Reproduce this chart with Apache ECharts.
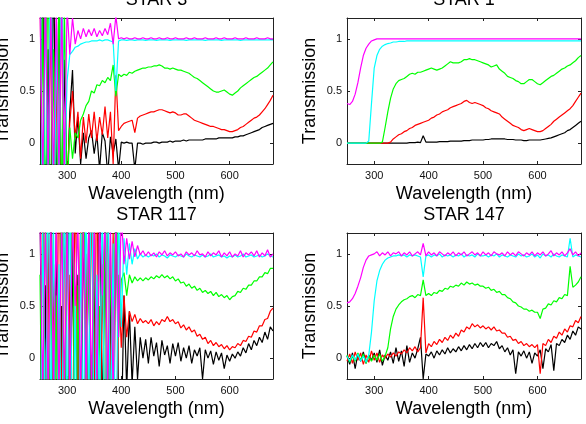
<!DOCTYPE html>
<html>
<head>
<meta charset="utf-8">
<script src="https://cdn.jsdelivr.net/npm/echarts@6/dist/echarts.min.js"></script>
<style>
  html, body { margin: 0; padding: 0; background: #fff; }
  #main { width: 586px; height: 424px; }
</style>
</head>
<body>
<div id="main"></div>
<script>
// wavelength grid (nm), 5 nm steps
const wl = [
  250,255,260,265,270,275,280,285,290,295,
  300,305,310,315,320,325,330,335,340,345,
  350,355,360,365,370,375,380,385,390,395,
  400,405,410,415,420,425,430,435,440,445,
  450,455,460,465,470,475,480,485,490,495,
  500,505,510,515,520,525,530,535,540,545,
  550,555,560,565,570,575,580,585,590,595,
  600,605,610,615,620,625,630,635,640,645,
  650,655,660,665,670,675,680
];

const xTicks = [300, 400, 500, 600];
const yTicks = [0, 0.5, 1];
const titles = ['STAR 3', 'STAR 1', 'STAR 117', 'STAR 147'];
const colors = ['#000000', '#ff0000', '#00ff00', '#00ffff', '#ff00ff'];

// STAR 3
const s3Black = [
  -1,1.8,-1.2,0.9,-1.5,2,-0.8,1.5,-1,0.8,
  -0.5,0.3,0.7,-0.1,0.25,-0.2,0.1,-0.15,0.05,0.12,
  -0.1,0.08,-0.25,0.1,0.02,-0.3,0.06,-0.1,0.04,-0.25,
  0.01,0,0.01,0,0,-0.25,0,0,-0.01,0,
  0,0,0.01,0.01,0,0.01,0.01,0.01,0.02,0.01,
  0.02,0.02,0.02,0.03,0.02,0.03,0.03,0.03,0.03,0.03,
  0.03,0.04,0.04,0.04,0.04,0.04,0.05,0.05,0.05,0.05,
  0.05,0.05,0.06,0.06,0.07,0.07,0.08,0.09,0.1,0.11,
  0.12,0.13,0.15,0.16,0.17,0.18,0.19
];
const s3Red = [
  1.6,-1.2,2,-0.9,1.4,-1.6,0.8,-1.1,1.7,-0.6,
  -0.4,0.2,0.5,0.05,0.3,-0.15,0.25,0,0.28,0.05,
  0.3,0.02,0.25,0.08,0.35,0.05,0.3,-0.2,0.65,0.12,
  0.16,0.19,0.2,0.21,0.22,0.1,0.24,0.26,0.27,0.28,
  0.29,0.3,0.3,0.31,0.32,0.32,0.31,0.3,0.29,0.3,
  0.29,0.27,0.27,0.28,0.28,0.26,0.24,0.22,0.21,0.2,
  0.19,0.18,0.17,0.16,0.16,0.15,0.14,0.13,0.13,0.12,
  0.11,0.11,0.12,0.13,0.15,0.16,0.18,0.2,0.22,0.24,
  0.25,0.27,0.3,0.33,0.37,0.41,0.46
];
const s3Green = [
  -1.3,1.2,-0.8,2.1,-1.5,0.9,-1.1,1.6,-0.7,1.3,
  -0.5,0.15,-0.15,0.1,0.05,0.22,0.28,0.36,0.4,0.5,
  0.48,0.56,0.55,0.6,0.58,0.63,0.6,0.75,0.45,0.66,
  0.64,0.66,0.65,0.68,0.67,0.69,0.7,0.71,0.72,0.72,
  0.73,0.73,0.74,0.74,0.75,0.74,0.72,0.72,0.71,0.72,
  0.71,0.7,0.7,0.69,0.68,0.67,0.65,0.63,0.62,0.6,
  0.58,0.56,0.54,0.52,0.5,0.49,0.49,0.5,0.51,0.49,
  0.47,0.46,0.48,0.5,0.53,0.55,0.57,0.59,0.61,0.63,
  0.64,0.66,0.68,0.7,0.72,0.75,0.78
];
const s3Cyan = [
  2.2,-1.4,1.5,-1,2.6,-1.8,1.1,-0.6,1.9,-0.4,
  0.6,0.85,0.88,0.92,0.93,0.95,0.96,0.97,0.97,0.98,
  0.98,0.98,0.99,0.98,0.99,0.99,0.98,0.97,0.5,0.98,
  0.99,0.99,0.985,0.99,0.99,0.985,0.99,0.99,0.99,0.985,
  0.99,0.99,0.99,0.985,0.99,0.99,0.99,0.99,0.985,0.99,
  0.99,0.99,0.99,0.99,0.985,0.99,0.99,0.99,0.99,0.99,
  0.99,0.985,0.99,0.99,0.99,0.99,0.99,0.985,0.99,0.99,
  0.99,0.99,0.99,0.99,0.985,0.99,0.99,0.99,0.99,0.99,
  0.99,0.99,0.99,0.99,0.99,0.99,0.99
];
const s3Magenta = [
  1.3,-0.35,1.35,-0.3,1.3,-0.4,1.35,-0.3,1.3,-0.25,
  1.3,0.85,1.2,0.95,1.08,1,1.1,1.02,1.09,1.03,
  1.1,1.02,1.08,1.03,1.1,1.04,1.15,0.95,1.22,1,
  1.01,1,1.01,1,1,1.01,1,1,1.01,1,
  1,1.01,1,1,1.01,1,1,1.01,1,1,
  1.01,1,1,1,1.01,1,1,1.01,1,1,
  1,1.01,1,1,1,1.01,1,1,1.01,1,
  1,1,1.01,1,1,1,1.01,1,1,1,
  1.01,1,1,1,1.01,1,1
];

// STAR 1
const s1Black = [
  0,0,0,0,0,0,0,0,0,0,
  0,0,0,0,0,0,0,0,0,0,
  0,0,0,0.005,0.005,0.005,0.01,0.005,0.07,0.01,
  0.01,0.01,0.01,0.01,0.015,0.015,0.015,0.015,0.02,0.02,
  0.02,0.02,0.02,0.025,0.025,0.025,0.03,0.03,0.03,0.03,
  0.03,0.035,0.035,0.04,0.04,0.04,0.04,0.04,0.04,0.035,
  0.035,0.035,0.03,0.03,0.03,0.025,0.025,0.03,0.03,0.03,
  0.03,0.03,0.035,0.04,0.045,0.05,0.06,0.07,0.08,0.09,
  0.1,0.12,0.13,0.15,0.17,0.19,0.21
];
const s1Red = [
  0,0,0,0,0,0,0,0,0,0,
  0,0,0,0,0,0,0.01,0.04,0.06,0.08,
  0.09,0.11,0.12,0.14,0.15,0.17,0.18,0.19,0.2,0.21,
  0.22,0.24,0.25,0.27,0.28,0.3,0.31,0.32,0.34,0.35,
  0.36,0.37,0.38,0.4,0.41,0.39,0.38,0.39,0.38,0.37,
  0.36,0.34,0.33,0.31,0.3,0.29,0.28,0.25,0.23,0.21,
  0.19,0.17,0.16,0.15,0.13,0.12,0.13,0.14,0.13,0.12,
  0.11,0.11,0.12,0.14,0.16,0.18,0.21,0.23,0.25,0.27,
  0.29,0.31,0.33,0.36,0.4,0.44,0.48
];
const s1Green = [
  0,0,0,0,0,0,0,0,0,0,
  0,0,0,0.01,0.15,0.3,0.43,0.52,0.57,0.6,
  0.61,0.62,0.64,0.66,0.67,0.66,0.68,0.68,0.69,0.7,
  0.71,0.72,0.71,0.7,0.71,0.72,0.74,0.76,0.78,0.77,
  0.77,0.77,0.78,0.8,0.8,0.81,0.8,0.8,0.79,0.78,
  0.77,0.76,0.75,0.73,0.74,0.75,0.71,0.69,0.67,0.64,
  0.63,0.62,0.6,0.59,0.57,0.57,0.59,0.61,0.61,0.59,
  0.57,0.56,0.58,0.6,0.62,0.64,0.65,0.67,0.69,0.71,
  0.72,0.74,0.75,0.77,0.79,0.82,0.84
];
const s1Cyan = [
  0,0,0,0,0,0,0,0,0.02,0.38,
  0.72,0.84,0.9,0.93,0.945,0.955,0.96,0.97,0.97,0.975,
  0.975,0.975,0.98,0.98,0.98,0.98,0.98,0.98,0.98,0.98,
  0.98,0.98,0.98,0.98,0.98,0.98,0.98,0.98,0.98,0.98,
  0.98,0.98,0.98,0.98,0.98,0.98,0.98,0.98,0.98,0.98,
  0.98,0.98,0.98,0.98,0.98,0.98,0.98,0.98,0.98,0.98,
  0.98,0.98,0.98,0.98,0.98,0.98,0.98,0.98,0.98,0.98,
  0.98,0.98,0.98,0.98,0.98,0.98,0.98,0.98,0.98,0.98,
  0.98,0.98,0.98,0.98,0.98,0.98,0.98
];
const s1Magenta = [
  0.38,0.37,0.4,0.47,0.58,0.72,0.84,0.91,0.95,0.98,
  0.99,1,1,1,1,1,1,1,1,1,
  1,1,1,1,1,1,1,1,1,1,
  1,1,1,1,1,1,1,1,1,1,
  1,1,1,1,1,1,1,1,1,1,
  1,1,1,1,1,1,1,1,1,1,
  1,1,1,1,1,1,1,1,1,1,
  1,1,1,1,1,1,1,1,1,1,
  1,1,1,1,1,1,1
];

// STAR 117
const s117Black = [
  1.5,-1.2,0.7,-2,1.9,-0.6,1.2,-1.5,0.5,-1.8,
  2.2,-0.9,1.1,-1.4,0.8,-2.1,1.6,-0.7,1.3,-1.2,
  0.9,-1.6,2,-0.8,1.4,-1.1,0.6,-1.9,1.8,-0.5,
  -0.8,0.6,-0.3,0.45,-0.25,0.3,-0.2,0.2,0,0.18,
  -0.05,0.2,0.02,0.15,-0.08,0.17,0.03,0.12,-0.05,0.14,
  0.02,0.15,-0.03,0.1,0,0.12,-0.05,0.08,0.02,0.1,
  -0.2,0.08,0,0.07,-0.06,0.06,-0.02,0.05,-0.1,0.03,
  -0.03,0.04,0,0.06,0.02,0.1,0.05,0.14,0.08,0.17,
  0.12,0.2,0.15,0.25,0.18,0.3,0.26
];
const s117Red = [
  -1.4,1.8,-0.7,1.2,-1.9,0.9,-1.1,2.3,-0.6,1.5,
  -1.8,0.8,-1.2,1.9,-0.5,1.4,-2.2,1,-0.9,1.7,
  -0.7,2.1,-1.5,0.9,-1,1.6,-0.4,1.2,-1.7,0.8,
  0.1,0.6,0.2,0.45,0.35,0.42,0.33,0.38,0.34,0.36,
  0.33,0.37,0.31,0.35,0.32,0.37,0.35,0.4,0.35,0.37,
  0.33,0.35,0.29,0.32,0.27,0.3,0.25,0.27,0.21,0.23,
  0.18,0.2,0.14,0.17,0.12,0.15,0.11,0.13,0.09,0.12,
  0.08,0.11,0.1,0.14,0.12,0.17,0.16,0.21,0.2,0.26,
  0.25,0.31,0.31,0.37,0.38,0.45,0.48
];
const s117Green = [
  0.8,-1.5,1.7,-0.9,1.2,-2,0.6,-1.3,2.1,-0.8,
  1.5,-0.6,1.9,-1.7,0.7,-1,2.4,-0.5,1.1,-1.6,
  1.3,-0.9,0.5,-2,1.8,-0.6,1,-1.2,2,0.2,
  0.75,0.82,0.6,0.8,0.72,0.78,0.74,0.77,0.74,0.77,
  0.75,0.78,0.76,0.79,0.77,0.8,0.77,0.79,0.76,0.78,
  0.74,0.76,0.72,0.73,0.69,0.71,0.67,0.69,0.65,0.67,
  0.63,0.65,0.62,0.64,0.6,0.63,0.59,0.61,0.58,0.6,
  0.56,0.59,0.6,0.64,0.63,0.67,0.66,0.7,0.7,0.74,
  0.74,0.78,0.78,0.82,0.81,0.86,0.86
];
const s117Cyan = [
  -1.6,1.4,-1,2,-0.7,1.3,-1.8,0.9,-1.2,1.7,
  -0.8,1.9,-1.4,0.6,-2.1,1.2,-0.9,1.6,-0.6,2.2,
  -1.2,0.8,-0.6,1.5,-1.5,2,-0.8,1.1,-1.3,1.4,
  0.3,1.15,0.8,1.1,0.9,1.05,0.95,1,0.97,0.99,
  0.97,0.99,0.98,1,0.97,0.99,0.98,0.96,0.99,0.98,
  0.97,0.99,0.98,0.97,1,0.98,0.97,0.99,0.98,0.97,
  0.99,0.97,0.98,1,0.97,0.98,0.99,0.97,0.98,0.96,
  0.98,0.97,0.99,0.97,0.98,1,0.97,0.98,0.99,0.97,
  0.98,0.99,0.97,0.98,1,0.98,0.97
];
const s117Magenta = [
  1.35,-0.35,1.3,-0.4,1.35,-0.3,1.3,-0.35,1.35,-0.3,
  1.3,-0.35,1.35,0.5,1.3,-0.4,1.35,-0.3,1.3,-0.35,
  1.35,-0.3,1.3,0.6,1.35,-0.35,1.3,-0.4,1.35,0.2,
  1.4,0.9,1.15,0.95,1.12,0.97,1.08,0.99,1.03,0.98,
  1.02,0.98,1.01,0.97,1.02,0.99,1.03,0.98,1.01,0.99,
  1.02,0.98,1,0.97,1.02,0.99,1.01,0.98,1.03,0.99,
  1,0.97,1.02,0.98,1.01,0.99,1.03,0.97,1.01,0.98,
  1.02,0.97,1,0.98,1.03,0.97,1.01,0.99,1.02,0.98,
  1.03,0.97,1.01,0.98,1.04,0.97,1
];

// STAR 147
const s147Black = [
  0.02,-0.06,0.05,-0.1,0.04,-0.03,0.06,-0.05,0.03,-0.02,
  0.05,-0.04,0.08,-0.07,0.03,-0.02,0.06,-0.05,0.1,-0.03,
  0.07,-0.08,0.12,-0.04,0.05,0,0.09,0.2,-0.2,0.04,
  0.02,0.06,0,0.07,0.03,0.08,0.04,0.1,0.05,0.09,
  0.06,0.11,0.07,0.12,0.08,0.13,0.09,0.14,0.1,0.15,
  0.11,0.15,0.1,0.14,0.12,0.16,0.09,0.12,0.06,0.1,
  0.03,0.08,-0.15,0.06,0.02,0.07,0,0.06,-0.05,0.05,
  0.02,0.08,-0.1,0.09,0.06,0.13,-0.12,0.14,0.12,0.18,
  0.15,0.22,0.18,0.26,0.22,0.3,0.28
];
const s147Red = [
  -0.03,0.04,-0.05,0.06,-0.02,0.05,-0.06,0.03,-0.04,0.07,
  -0.02,0.05,-0.04,0.03,0,0.04,0.01,0.05,0.02,0.06,
  0.04,0.08,0.05,0.1,0.07,0.11,0.06,0.1,0.58,0.05,
  0.14,0.11,0.16,0.13,0.18,0.15,0.2,0.17,0.22,0.19,
  0.24,0.21,0.27,0.25,0.3,0.28,0.33,0.3,0.32,0.29,
  0.31,0.28,0.3,0.27,0.3,0.26,0.27,0.24,0.24,0.2,
  0.21,0.17,0.18,0.14,0.16,0.12,0.14,0.11,0.13,0.1,
  0.13,-0.15,0.14,0.12,0.18,0.15,0.21,0.19,0.25,0.22,
  0.28,0.25,0.31,0.3,0.36,0.34,0.4
];
const s147Green = [
  0.03,-0.04,0.02,-0.03,0.05,-0.02,0.04,-0.05,0.02,-0.03,
  0.03,-0.02,0.04,-0.03,0.02,0.1,0.28,0.4,0.47,0.51,
  0.54,0.56,0.57,0.59,0.6,0.58,0.61,0.6,0.75,0.6,
  0.62,0.6,0.63,0.62,0.65,0.64,0.67,0.66,0.69,0.68,
  0.7,0.69,0.72,0.7,0.73,0.71,0.72,0.7,0.71,0.69,
  0.69,0.67,0.68,0.65,0.66,0.63,0.64,0.61,0.61,0.58,
  0.57,0.54,0.53,0.5,0.49,0.47,0.47,0.45,0.46,0.44,
  0.44,0.38,0.47,0.48,0.52,0.51,0.55,0.54,0.58,0.57,
  0.61,0.6,0.88,0.68,0.7,0.73,0.78
];
const s147Cyan = [
  0.02,-0.03,0.03,-0.02,0.04,-0.03,0.02,-0.04,0.03,0.25,
  0.55,0.74,0.84,0.9,0.94,0.96,0.97,0.98,0.98,0.99,
  0.98,0.99,0.97,0.99,0.98,0.99,0.98,0.97,0.78,0.98,
  0.99,0.97,0.99,0.98,1,0.97,0.99,0.98,0.99,0.97,
  0.99,0.98,1,0.97,0.99,0.98,0.99,0.97,1,0.98,
  0.98,0.99,0.97,0.99,0.98,1,0.97,0.99,0.98,0.97,
  0.99,0.98,0.97,1,0.98,0.99,0.97,0.98,1,0.97,
  0.99,0.96,1,0.98,0.99,0.97,1,0.98,0.97,0.99,
  0.98,0.97,1.15,0.97,0.99,0.98,0.97
];
const s147Magenta = [
  0.53,0.54,0.57,0.62,0.69,0.77,0.87,0.94,0.98,0.99,
  1,1.02,0.98,1.01,0.99,1.02,0.98,1.01,1,1.02,
  0.98,1.01,0.99,1.02,0.98,1,1.02,0.99,1.1,0.98,
  1.02,0.99,1.01,0.98,1.02,1,0.98,1.01,0.99,1.02,
  0.98,1.01,0.99,1.02,0.98,1,1.02,0.99,1.01,0.98,
  1.02,0.99,1.01,0.98,1.02,1,0.99,1.01,0.98,1.02,
  0.99,1.01,0.98,1.02,1,0.98,1.01,0.99,1.02,0.98,
  1.01,0.99,1.02,0.98,1,1.03,0.98,1.01,0.99,1.02,
  0.98,1.01,1.05,0.99,1.02,0.98,1.01
];

const panelData = [
  [s3Black, s3Red, s3Green, s3Cyan, s3Magenta],
  [s1Black, s1Red, s1Green, s1Cyan, s1Magenta],
  [s117Black, s117Red, s117Green, s117Cyan, s117Magenta],
  [s147Black, s147Red, s147Green, s147Cyan, s147Magenta]
];

// plot boxes: [left, top, width, height]
const boxes = [
  [40, 18, 233, 146],
  [347, 18, 234, 146],
  [40, 233, 233, 146],
  [347, 233, 234, 146]
];

const font = 'Liberation Sans, Arial, sans-serif';
const axisColor = '#222';

const grid = [], xAxis = [], yAxis = [], series = [], title = [], graphic = [];

boxes.forEach((b, i) => {
  grid.push({ left: b[0], top: b[1], width: b[2], height: b[3], containLabel: false });

  title.push({
    text: titles[i],
    left: b[0] + b[2] / 2,
    top: b[1] - 27,
    textAlign: 'center',
    padding: 0,
    textStyle: { fontSize: 18, fontWeight: 'normal', color: '#000', fontFamily: font }
  });

  // y axis title drawn as text so it can run off the page edge like the original
  graphic.push({
    type: 'text',
    x: b[0] - 37,
    y: b[1] + b[3] / 2,
    rotation: Math.PI / 2,
    silent: true,
    style: {
      text: 'Transmission',
      fontSize: 18,
      fontFamily: font,
      fill: '#000',
      align: 'center', verticalAlign: 'middle',
      textAlign: 'center', textVerticalAlign: 'middle'
    }
  });

  const line = { show: true, onZero: false, lineStyle: { color: axisColor, width: 1 } };

  xAxis.push({
    type: 'value', gridIndex: i, min: 250, max: 680,
    name: 'Wavelength (nm)', nameLocation: 'middle', nameGap: 21,
    nameTextStyle: { fontSize: 18, color: '#000', fontFamily: font },
    axisLine: line,
    axisTick: { show: true, inside: true, length: 3, customValues: xTicks, lineStyle: { color: axisColor } },
    axisLabel: { customValues: xTicks, fontSize: 11, color: '#111', margin: 6, fontFamily: font },
    splitLine: { show: false }
  });
  xAxis.push({
    type: 'value', gridIndex: i, min: 250, max: 680, position: 'top',
    axisLine: line,
    axisTick: { show: true, inside: true, length: 3, customValues: xTicks, lineStyle: { color: axisColor } },
    axisLabel: { show: false },
    splitLine: { show: false }
  });

  yAxis.push({
    type: 'value', gridIndex: i, min: -0.2, max: 1.2,
    axisLine: line,
    axisTick: { show: true, inside: true, length: 3, customValues: yTicks, lineStyle: { color: axisColor } },
    axisLabel: { customValues: yTicks, fontSize: 11, color: '#111', margin: 5, fontFamily: font },
    splitLine: { show: false }
  });
  yAxis.push({
    type: 'value', gridIndex: i, min: -0.2, max: 1.2, position: 'right',
    axisLine: line,
    axisTick: { show: true, inside: true, length: 3, customValues: yTicks, lineStyle: { color: axisColor } },
    axisLabel: { show: false },
    splitLine: { show: false }
  });

  panelData[i].forEach((vals, k) => {
    series.push({
      type: 'line',
      xAxisIndex: 2 * i,
      yAxisIndex: 2 * i,
      data: wl.map((w, j) => [w, vals[j]]),
      showSymbol: false,
      symbol: 'none',
      clip: true,
      silent: true,
      lineStyle: { width: 1.2, color: colors[k] },
      itemStyle: { color: colors[k] }
    });
  });
});

const chart = echarts.init(document.getElementById('main'), null, { renderer: 'canvas' });
chart.setOption({
  animation: false,
  backgroundColor: '#fff',
  title: title,
  grid: grid,
  xAxis: xAxis,
  yAxis: yAxis,
  series: series,
  graphic: graphic
});
</script>
</body>
</html>
